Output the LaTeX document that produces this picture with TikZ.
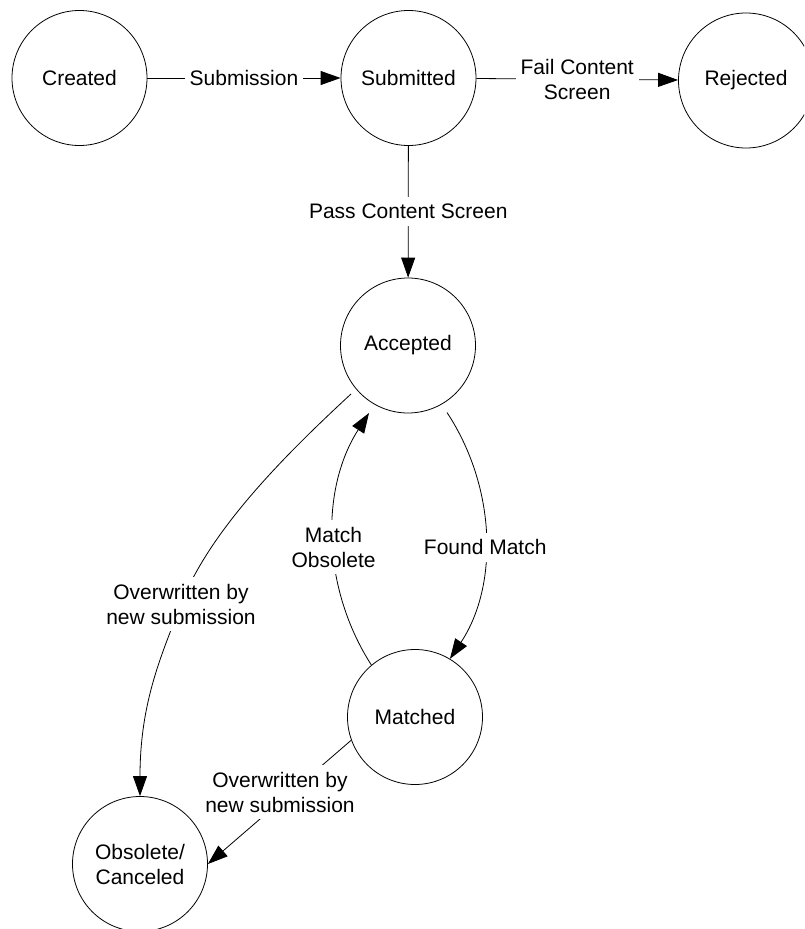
\documentclass[tikz,border=0pt]{standalone}
\usepackage{fontspec}
\setmainfont{Liberation Sans}
\usetikzlibrary{arrows.meta,calc}

\begin{document}
\begin{tikzpicture}[x=1pt,y=-1pt,
  every node/.style={font=\fontsize{21}{25}\selectfont, align=center},
  state/.style={circle, draw, line width=0.8pt, minimum size=135pt, inner sep=0pt},
  trans/.style={line width=0.8pt, -{Triangle[length=20pt,width=14pt]}},
  lbl/.style={fill=white, inner xsep=5pt, inner ysep=7pt}]
\clip (0,0) rectangle (804,929);

% states
\node[state] (cre) at (79.5,78)  {Created};
\node[state] (sub) at (408.5,78) {Submitted};
\node[state] (rej) at (746,80.5) {Rejected};
\node[state] (acc) at (408,345.5) {Accepted};
\node[state] (mat) at (415,717)  {Matched};
\node[state] (obs) at (140,864)  {Obsolete/\\Canceled};

% transitions along the top row
\draw[trans] (cre) -- node[lbl] (lsub) {Submission} (sub);
\draw[trans] (sub) -- node[lbl] (lfail) {Fail Content\\Screen} (rej);
\draw[trans] (sub) -- node[lbl] (lpass) {Pass Content Screen} (acc);

% loop between Accepted and Matched (two arcs)
\draw[trans] ($(acc.center)+(39,67)$)
  .. controls (497.1,488.5) and (498.1,586.5) ..
  node[lbl, pos=0.54] (lfound) {Found Match} (mat.59);
\draw[trans] (mat.130)
  .. controls (322.3,588.6) and (319.7,489.7) ..
  node[lbl, pos=0.47] (lobs) {Match\\Obsolete} ($(acc.center)+(-39,67.5)$);

% overwritten transitions
\draw[trans] ($(acc.center)+(-57,48.5)$)
  .. controls (285,455) and (210,530) .. (181,604)
  node[lbl] (lover1) {Overwritten by\\new submission}
  .. controls (163,652) and (140,700) .. (obs.north);
\draw[trans] (mat.200) -- (obs.0);
\node[lbl] (lover2) at (280,792) {Overwritten by\\new submission};
\end{tikzpicture}
\end{document}
